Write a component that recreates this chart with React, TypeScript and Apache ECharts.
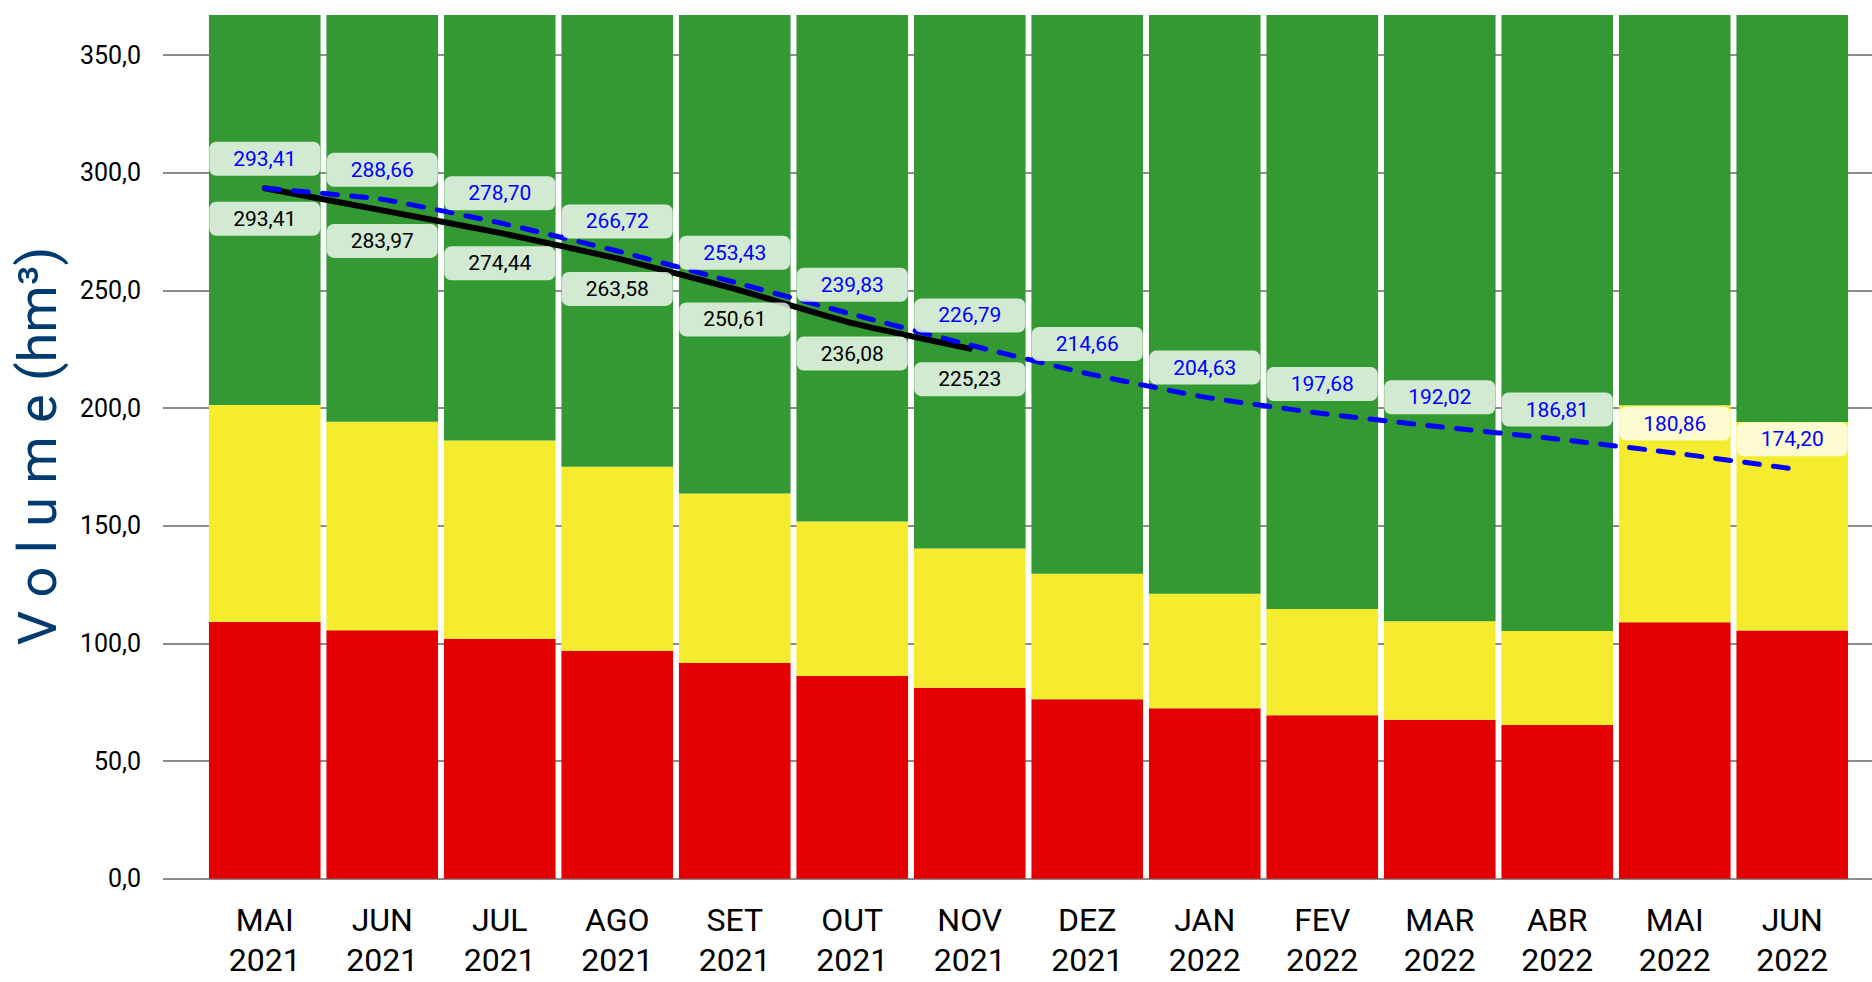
import React, { useEffect, useRef } from "react";
import * as echarts from "echarts";

const months = ["MAI", "JUN", "JUL", "AGO", "SET", "OUT", "NOV", "DEZ", "JAN", "FEV", "MAR", "ABR", "MAI", "JUN"];
const years = ["2021", "2021", "2021", "2021", "2021", "2021", "2021", "2021", "2022", "2022", "2022", "2022", "2022", "2022"];

// Zone limits (hm³)
const capacity = 367;
const redTop = [109.1, 105.6, 102.0, 96.9, 91.7, 86.1, 81.1, 76.2, 72.4, 69.4, 67.5, 65.3, 109.0, 105.5];
const yellowTop = [201.3, 194.2, 186.2, 175.0, 163.7, 151.8, 140.3, 129.6, 121.1, 114.6, 109.4, 105.2, 201.2, 194.1];

// Volumes
const realizado = [293.41, 283.97, 274.44, 263.58, 250.61, 236.08, 225.23];
const projetado = [293.41, 288.66, 278.7, 266.72, 253.43, 239.83, 226.79, 214.66, 204.63, 197.68, 192.02, 186.81, 180.86, 174.2];

const FONT = "Roboto";
const fmt2 = (v: number) => v.toFixed(2).replace(".", ",");
const fmt1 = (v: number) => v.toFixed(1).replace(".", ",");

export default function App() {
  const ref = useRef<HTMLDivElement>(null);

  useEffect(() => {
    document.body.style.margin = "0";
    if (!ref.current) return;
    const chart = echarts.init(ref.current, undefined, { renderer: "svg" });

    const categories = months.map((m, i) => `${m}\n${years[i]}`);
    const yellowSeg = yellowTop.map((y, i) => +(y - redTop[i]).toFixed(2));
    const greenSeg = yellowTop.map((y) => +(capacity - y).toFixed(2));

    const labelBox = {
      show: true,
      fontFamily: FONT,
      fontSize: 21,
      backgroundColor: "rgba(255,255,255,0.78)",
      borderRadius: 7,
      width: 111,
      height: 34,
      lineHeight: 34,
      align: "center",
      padding: 0,
      formatter: (p: any) => fmt2(p.value),
    };

    const option: any = {
      animation: false,
      textStyle: { fontFamily: FONT },
      grid: [
        { left: 163, right: 0, top: 15, bottom: 103.3, containLabel: false, outerBoundsMode: "none" },
        { left: 206, right: 21, top: 15, bottom: 103.3, containLabel: false, outerBoundsMode: "none" },
      ],
      xAxis: [
        { gridIndex: 0, type: "value", min: 0, max: 1, show: false },
        {
          gridIndex: 1,
          type: "category",
          data: categories,
          axisLine: { show: false },
          axisTick: { show: false },
          axisLabel: {
            interval: 0,
            fontFamily: FONT,
            fontSize: 32,
            lineHeight: 40,
            color: "#000",
            margin: 21,
          },
        },
      ],
      yAxis: [
        {
          gridIndex: 0,
          type: "value",
          min: 0,
          max: capacity,
          interval: 50,
          axisLine: { show: false },
          axisTick: { show: false },
          axisLabel: {
            fontFamily: FONT,
            fontSize: 25,
            color: "#000",
            margin: 22,
            showMaxLabel: false,
            formatter: (v: number) => (v % 50 === 0 ? fmt1(v) : ""),
          },
          splitLine: { show: true, showMaxLine: false, lineStyle: { color: "#8c8c8c", width: 2 } },
        },
        { gridIndex: 1, type: "value", min: 0, max: capacity, show: false, splitLine: { show: false } },
      ],
      graphic: [
        {
          type: "text",
          x: 37,
          y: 446,
          rotation: Math.PI / 2,
          style: {
            text: "V o l u m e (hm³)",
            fontFamily: FONT,
            fontSize: 54,
            fill: "#003B6F",
            textAlign: "center",
            textVerticalAlign: "middle",
          },
        },
      ],
      series: [
        {
          name: "Vermelho",
          type: "bar",
          xAxisIndex: 1,
          yAxisIndex: 1,
          stack: "zonas",
          barCategoryGap: "5%",
          itemStyle: { color: "#E20000" },
          data: redTop,
        },
        {
          name: "Amarelo",
          type: "bar",
          xAxisIndex: 1,
          yAxisIndex: 1,
          stack: "zonas",
          barCategoryGap: "5%",
          itemStyle: { color: "#F4EC2C" },
          data: yellowSeg,
        },
        {
          name: "Verde",
          type: "bar",
          xAxisIndex: 1,
          yAxisIndex: 1,
          stack: "zonas",
          barCategoryGap: "5%",
          itemStyle: { color: "#339933" },
          data: greenSeg,
        },
        {
          name: "Realizado",
          type: "line",
          xAxisIndex: 1,
          yAxisIndex: 1,
          smooth: 0.15,
          symbol: "circle",
          symbolSize: 1,
          itemStyle: { color: "rgba(0,0,0,0)" },
          lineStyle: { color: "#000", width: 6, cap: "round", join: "round" },
          label: { ...labelBox, position: "bottom", distance: 13, color: "#000" },
          data: realizado,
          z: 3,
        },
        {
          name: "Projetado",
          type: "line",
          xAxisIndex: 1,
          yAxisIndex: 1,
          smooth: 0.15,
          symbol: "circle",
          symbolSize: 1,
          itemStyle: { color: "rgba(0,0,0,0)" },
          lineStyle: { color: "#0000FF", width: 5, type: [15, 14], cap: "round", join: "round" },
          label: { ...labelBox, position: "top", distance: 12, color: "#0000FF" },
          data: projetado,
          z: 4,
        },
      ],
    };

    chart.setOption(option);
    return () => chart.dispose();
  }, []);

  return <div ref={ref} style={{ width: 1872, height: 982 }} />;
}
